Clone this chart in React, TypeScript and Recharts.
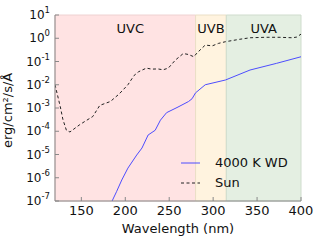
import { Line, LineChart, ReferenceArea, XAxis, YAxis } from "recharts";

const xTicks = [150, 200, 250, 300, 350, 400];
const yTicks = [1e-7, 1e-6, 1e-5, 1e-4, 1e-3, 1e-2, 1e-1, 1e0, 1e1];

const bandNames = ["UVC", "UVB", "UVA"];
const bandEdges = [120, 280, 315, 400];

const sunWavelength = [
  120, 126, 129, 133, 137, 148, 155, 163, 171, 183, 193, 203, 210, 215, 224,
  230, 237, 243, 249, 257, 266, 272, 278, 282, 291, 299, 306, 314, 330, 342,
  360, 375, 390, 395, 400,
];
const sunFlux = [
  1e-2, 1.15e-3, 3.2e-4, 1.1e-4, 9.3e-5, 1.9e-4, 2.8e-4, 4.3e-4, 1.3e-3,
  1.9e-3, 4e-3, 1e-2, 2.5e-2, 3.6e-2, 5.2e-2, 4.7e-2, 4.8e-2, 4.4e-2, 5.2e-2,
  0.115, 0.22, 0.2, 0.16, 0.24, 0.51, 0.47, 0.6, 0.71, 0.9, 1.05, 1.1, 1.1,
  1.05, 1.12, 1.5,
];

const wdWavelength = [
  185, 190, 196, 203, 213, 219, 226, 234, 240, 247, 260, 272, 276, 280, 291,
  314, 342, 372, 400,
];
const wdFlux = [
  1e-7, 2.5e-7, 8e-7, 2.6e-6, 9.5e-6, 1.9e-5, 6.9e-5, 1.1e-4, 3e-4, 6.3e-4,
  1.1e-3, 1.9e-3, 2.5e-3, 4.5e-3, 1e-2, 1.6e-2, 4.3e-2, 8.3e-2, 0.16,
];

const sunData = sunWavelength.map((wl, i) => ({ wl, flux: sunFlux[i] }));
const wdData = wdWavelength.map((wl, i) => ({ wl, flux: wdFlux[i] }));

const bandFills = ["#ffe3e3", "#fff3df", "#e4efe2"];
const bandStrokes = ["#eed2d2", "#eadfc6", "#cfdccd"];

const FONT = "'DejaVu Sans', sans-serif";
const AXIS = "#888";
const TICK_LEN = 4;

function BottomTick({ x, y, payload }: any) {
  return (
    <g>
      <line x1={x} x2={x} y1={y} y2={y - TICK_LEN} stroke={AXIS} />
      <text x={x} y={y + 9} textAnchor="middle" dominantBaseline="central" fontSize={13} fill="#111">
        {payload.value}
      </text>
    </g>
  );
}

function TopTick({ x, y }: any) {
  return <line x1={x} x2={x} y1={y} y2={y + TICK_LEN} stroke={AXIS} />;
}

function LeftTick({ x, y, payload }: any) {
  const exp = Math.round(Math.log10(payload.value));
  return (
    <g>
      <line x1={x} x2={x + TICK_LEN} y1={y} y2={y} stroke={AXIS} />
      <text x={x - 5} y={y + 4} textAnchor="end" fontSize={12} fill="#111">
        <tspan>10</tspan>
        <tspan dy={-6} fontSize={8.5}>{exp}</tspan>
      </text>
    </g>
  );
}

function RightTick({ x, y }: any) {
  return <line x1={x} x2={x - TICK_LEN} y1={y} y2={y} stroke={AXIS} />;
}

export default function App() {
  return (
    <div style={{ position: "absolute", left: 0, top: 0, width: 320, height: 240, fontFamily: FONT }}>
      <LineChart width={320} height={240} margin={{ top: 15, right: 19, bottom: 0, left: 0 }}>
        <XAxis
          xAxisId="b"
          type="number"
          dataKey="wl"
          domain={[120, 400]}
          ticks={xTicks}
          allowDataOverflow
          height={39}
          tickSize={0}
          tickMargin={0}
          tick={<BottomTick />}
          stroke={AXIS}
          label={{ value: "Wavelength (nm)", position: "insideBottom", offset: 7, fontSize: 13, fill: "#111" }}
        />
        <XAxis
          xAxisId="t"
          orientation="top"
          type="number"
          dataKey="wl"
          domain={[120, 400]}
          ticks={xTicks}
          allowDataOverflow
          height={0}
          tickSize={0}
          tickMargin={0}
          tick={<TopTick />}
          stroke={AXIS}
        />
        <YAxis
          yAxisId="l"
          scale="log"
          domain={[1e-7, 10]}
          ticks={yTicks}
          allowDataOverflow
          width={55}
          tickSize={0}
          tickMargin={0}
          tick={<LeftTick />}
          stroke={AXIS}
          label={{ value: "erg/cm²/s/Å", angle: -90, position: "insideLeft", offset: 7, dy: 40, fontSize: 13, fill: "#111" }}
        />
        <YAxis
          yAxisId="r"
          orientation="right"
          scale="log"
          domain={[1e-7, 10]}
          ticks={yTicks}
          allowDataOverflow
          width={0}
          tickSize={0}
          tickMargin={0}
          tick={<RightTick />}
          stroke={AXIS}
        />
        {bandNames.map((name, i) => (
          <ReferenceArea
            key={name}
            xAxisId="b"
            yAxisId="l"
            x1={bandEdges[i]}
            x2={bandEdges[i + 1]}
            fill={bandFills[i]}
            fillOpacity={1}
            stroke={bandStrokes[i]}
            strokeWidth={1}
            label={{ value: name, position: "insideTop", offset: 9, fontSize: 13, fill: "#111", dx: i === 0 ? 5 : 0 }}
          />
        ))}
        <Line
          xAxisId="b"
          yAxisId="l"
          data={sunData}
          dataKey="flux"
          type="linear"
          stroke="#222"
          strokeWidth={1}
          strokeDasharray="3 2.5"
          dot={false}
          isAnimationActive={false}
        />
        <Line
          xAxisId="b"
          yAxisId="l"
          data={wdData}
          dataKey="flux"
          type="linear"
          stroke="#4d4dff"
          strokeWidth={1}
          dot={false}
          isAnimationActive={false}
        />
      </LineChart>
      <div style={{ position: "absolute", left: 180, top: 153, fontSize: 13, color: "#111", lineHeight: "20px" }}>
        <div style={{ display: "flex", alignItems: "center" }}>
          <svg width={22} height={10} style={{ marginRight: 13 }}>
            <line x1={1} x2={20} y1={5} y2={5} stroke="#4d4dff" />
          </svg>
          4000 K WD
        </div>
        <div style={{ display: "flex", alignItems: "center" }}>
          <svg width={22} height={10} style={{ marginRight: 13 }}>
            <line x1={1} x2={20} y1={5} y2={5} stroke="#222" strokeDasharray="3 2.5" />
          </svg>
          Sun
        </div>
      </div>
    </div>
  );
}
